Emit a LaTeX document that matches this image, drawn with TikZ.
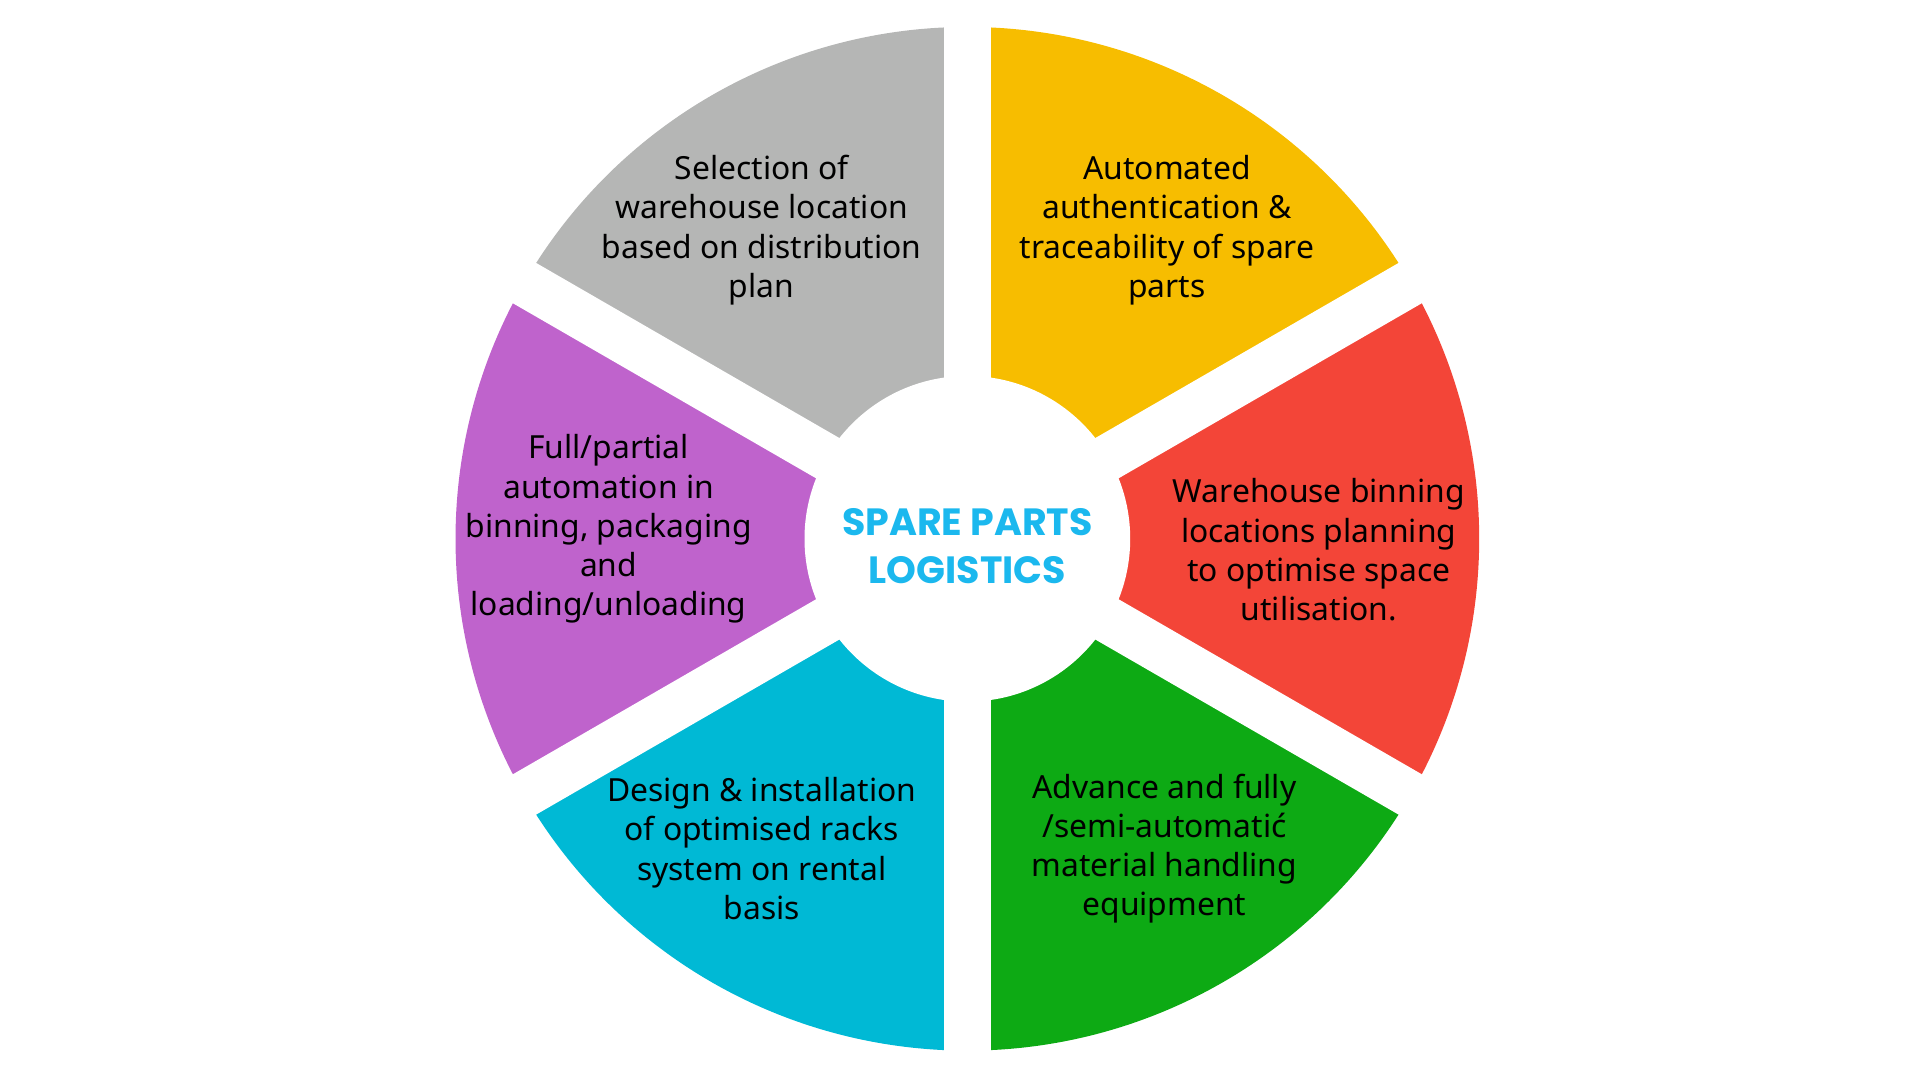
\documentclass[tikz,border=0pt]{standalone}
\usepackage{fontspec}
\setmainfont{Noto Sans}
\newfontfamily\titlefont{Poppins}
\begin{document}
\begin{tikzpicture}[x=0.5pt,y=0.5pt,
  lbl/.style={align=center,font=\bfseries\fontsize{13}{16}\selectfont,text=black}]
\definecolor{cgray}{HTML}{B5B6B5}
\definecolor{cyel}{HTML}{F7BD00}
\definecolor{cred}{HTML}{F34538}
\definecolor{cgreen}{HTML}{0DAA14}
\definecolor{ccyan}{HTML}{00B9D5}
\definecolor{cpurp}{HTML}{BF63CC}
\definecolor{ctitle}{HTML}{1BB8EE}
\useasboundingbox (0,0) rectangle (1568,880);
\coordinate (C) at (790,440);
\foreach \a/\c in {90/cgray,150/cpurp,210/ccyan,270/cgreen,330/cred,30/cyel}{
  \fill[\c] (C) -- ++(\a:418) arc (\a:\a+60:418) -- cycle;
}
\foreach \a in {30,90,150,210,270,330}{
  \draw[white,line width=19pt] (C) -- ++(\a:440);
}
\fill[white] (C) circle (133);
\node[lbl] (g) at (622,692) {Selection of\\warehouse location\\based on distribution\\plan};
\node[lbl] (y) at (953,692) {Automated\\authentication \&\\traceability of spare\\parts};
\node[lbl] (r) at (1077,431) {Warehouse binning\\locations planning\\to optimise space\\utilisation.};
\node[lbl] (gr) at (951,187) {Advance and fully\\/semi-automatić\\material handling\\equipment};
\node[lbl] (cy) at (622,187) {Design \& installation\\of optimised racks\\system on rental\\basis};
\node[lbl] (p) at (497,448) {Full/partial\\automation in\\binning, packaging\\and\\loading/unloading};
\node[align=center,text=ctitle,font=\titlefont\bfseries\fontsize{15.5}{20}\selectfont] (t) at (790,434) {SPARE PARTS\\LOGISTICS};
\end{tikzpicture}
\end{document}
